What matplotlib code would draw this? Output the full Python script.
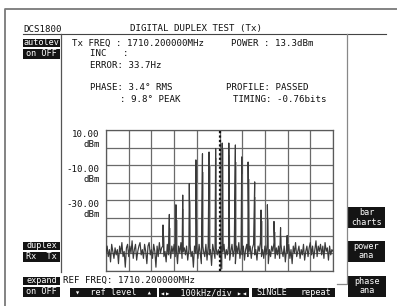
import matplotlib
matplotlib.use('Agg')
import matplotlib.pyplot as plt
import matplotlib.transforms as mtransforms
from matplotlib.patches import Rectangle
import numpy as np

# noise floor of the trace, one value every 5 kHz from -500 to +500 kHz (dBm)
noise_floor = [
    -60, -56, -62, -58, -65, -55, -59, -63, -57, -61,
    -58, -66, -56, -60, -54, -62, -59, -68, -57, -55,
    -62, -56, -60, -53, -63, -58, -55, -64, -59, -56,
    -54, -61, -58, -63, -55, -59, -66, -56, -54, -61,
    -58, -63, -55, -59, -68, -56, -62, -54, -60, -57,
    -56, -62, -59, -65, -55, -61, -57, -63, -56, -60,
    -55, -62, -58, -66, -56, -60, -54, -63, -59, -57,
    -61, -56, -64, -58, -55, -62, -59, -68, -56, -60,
    -57, -63, -55, -60, -66, -56, -59, -62, -55, -64,
    -56, -61, -58, -67, -55, -59, -63, -57, -61, -58,
    -62, -56, -69, -59, -55, -63, -58, -61, -56, -64,
    -59, -55, -62, -58, -66, -56, -60, -54, -63, -57,
    -61, -56, -64, -58, -55, -62, -59, -56, -63, -57,
    -55, -61, -58, -64, -56, -59, -54, -62, -58, -63,
    -56, -61, -55, -66, -58, -62, -56, -59, -54, -63,
    -57, -61, -56, -63, -55, -59, -62, -56, -65, -58,
    -60, -55, -63, -58, -66, -56, -60, -54, -62, -59,
    -56, -63, -58, -61, -55, -64, -59, -56, -62, -57,
    -54, -61, -56, -63, -58, -53, -62, -56, -59, -55,
    -61, -56, -63, -54, -59, -57, -64, -56, -61, -58,
    -59,
]

# spectral lines: offset from ref freq (kHz) and level (dBm)
peak_offsets = [-249, -221, -192, -162, -133, -104, -75, -46, -17, 12,
                41, 70, 98, 126, 155, 183, 211, 240, 269, 298]
peak_levels = [-44, -38, -32.5, -27, -20.5, -7, -3.5, -2.5, -0.5, 2.6,
               2.6, 1.5, -5.3, -8.2, -19.5, -35.5, -32.5, -42, -45.5, -50]

# lighter companion lines beside the main ones (second trace)
side_offsets = [-246, -218, -189, -159, -130, -101, -72, -43, -14, 14,
                44, 73, 101, 129, 158, 186, 214, 243, 272, 301]
side_levels = [-50, -46, -41, -35, -30, -20, -14, -10, -6, -1,
               -4, -8, -15, -18, -28, -42, -40, -48, -51, -54]

level_marks = [10, -10, -30]
level_labels = ['10.00\ndBm', '-10.00\ndBm', '-30.00\ndBm']

W, H = 397, 306
fig = plt.figure(figsize=(W / 100, H / 100), dpi=100)
fig.patch.set_facecolor('white')

# overlay in pixel coords for the screen furniture
ov = fig.add_axes([0, 0, 1, 1])
ov.set_xlim(0, W)
ov.set_ylim(H, 0)
ov.axis('off')

mono = ['DejaVu Sans Mono', 'DejaVu Sans']
fs = 6.6
ink = '#111111'

def txt(x, y, s, **kw):
    kw.setdefault('ha', 'left')
    kw.setdefault('va', 'center')
    kw.setdefault('color', ink)
    ov.text(x, y, s, family=mono, fontsize=kw.pop('size', fs), **kw)

def button(x0, x1, y0, y1, s, size=6.1):
    ov.add_patch(Rectangle((x0, y0), x1 - x0, y1 - y0, color='#141414', lw=0))
    ov.text((x0 + x1) / 2, (y0 + y1) / 2, s, family=mono, fontsize=size,
            color='white', ha='center', va='center', linespacing=1.05)

# frame lines
ov.plot([4.5, 4.5, W], [H, 9, 9], color='#7a7a7a', lw=1.3)
ov.plot([23, 386], [33.5, 33.5], color='#444444', lw=0.8)
ov.plot([60.5, 60.5], [33.5, 272], color='#555555', lw=0.9)
ov.plot([347, 347, 337], [33.5, 284, 284], color='#888888', lw=0.9)

# header and readouts
txt(23, 29, 'DCS1800')
txt(130, 29, 'DIGITAL DUPLEX TEST (Tx)')
txt(72, 43, 'Tx FREQ : 1710.200000MHz')
txt(231, 43, 'POWER : 13.3dBm')
txt(90, 54, 'INC   :')
txt(90, 65, 'ERROR: 33.7Hz')
txt(90, 88, 'PHASE: 3.4° RMS')
txt(120, 99, ': 9.8° PEAK')
txt(226, 88, 'PROFILE: PASSED')
txt(233, 99, 'TIMING: -0.76bits')
txt(63, 280.5, 'REF FREQ: 1710.200000MHz')

# soft keys
button(23, 60, 39, 46.5, 'autolev')
button(23, 60, 48.5, 58.5, 'on OFF')
button(23, 60, 242, 250, 'duplex')
button(23, 60, 251.5, 262, 'Rx  Tx')
button(23, 60, 276.5, 284.5, 'expand')
button(23, 60, 287, 296.5, 'on OFF')
button(348, 385, 207, 228, 'bar\ncharts')
button(348, 385, 240.5, 262, 'power\nana')
button(348, 386, 275.5, 297, 'phase\nana')
button(70, 157, 288, 297, '\u25be  ref level  \u25b4')
button(158.5, 248.5, 288, 297, '\u25c2\u25b8  100kHz/div \u25b8\u25c2')
button(251.5, 335, 288, 297, '')
txt(256, 292.5, 'SINGLE', color='white', size=6.1)
txt(331, 292.5, 'repeat', color='white', ha='right', size=6.1)

# spectrum display
ax = fig.add_axes([106 / W, 1 - 270.7 / H, 227 / W, 140.7 / H])
ax.set_zorder(2)
ax.set_facecolor('white')
ax.set_xlim(-500, 500)
ax.set_ylim(-70, 10)
ax.set_xticks(np.arange(-500, 501, 100))
ax.set_yticks(np.arange(-70, 11, 10))
ax.tick_params(length=0, labelbottom=False, labelleft=False)
ax.grid(True, color='#6a6a6a', lw=0.9)
for sp in ax.spines.values():
    sp.set_color('#5a5a5a')
    sp.set_linewidth(0.9)

ax.vlines(side_offsets, -60, side_levels, color='#9a9a9a', lw=1.1, zorder=3)

freqs = np.concatenate([np.arange(-500, 501, 5), peak_offsets])
levels = np.concatenate([noise_floor, peak_levels])
order = np.argsort(freqs)
ax.plot(freqs[order], levels[order], color='#3a3a3a', lw=0.85, zorder=3)
ax.axvline(0, color='#111111', ls=(0, (1, 1)), lw=1.6, zorder=4)

lab_tr = mtransforms.blended_transform_factory(ax.transAxes, ax.transData)
for v, lab in zip(level_marks, level_labels):
    ax.text(-0.028, v, lab, transform=lab_tr, ha='right', va='top',
            multialignment='right', family=mono, fontsize=fs, color=ink,
            linespacing=1.15)

fig.savefig('out.png', dpi=100, facecolor='white')
